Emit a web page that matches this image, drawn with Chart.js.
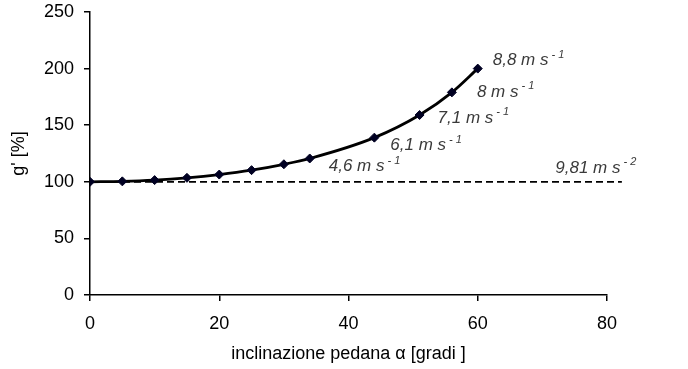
<!DOCTYPE html>
<html lang="it">
<head>
<meta charset="UTF-8">
<title>g' vs inclinazione</title>
<script src="https://cdn.jsdelivr.net/npm/chart.js"></script>
<style>
  * { margin: 0; padding: 0; box-sizing: border-box; }
  body { background: #ffffff; width: 688px; height: 369px; overflow: hidden; }
  #wrap { position: relative; width: 688px; height: 369px; }
</style>
</head>
<body>
<div id="wrap"><canvas id="chart"></canvas></div>
<script>
// inclinazione pedana (gradi) and g' (%)
const angles = [0, 5, 10, 15, 20, 25, 30, 34, 44, 51, 56, 60];
const gPercent = [100, 100.4, 101.5, 103.5, 106.4, 110.3, 115.5, 120.6, 139, 159, 179, 200];

// reference g line, 9,81 m s-2
const refAngles = [0, 82.3];
const refValue = 100;

// speed labels next to the last points
const speedText = ['4,6', '6,1', '7,1', '8', '8,8'];
const speedPoint = [7, 8, 9, 10, 11];

const xTicks = [0, 20, 40, 60, 80];
const yTicks = [0, 50, 100, 150, 200, 250];

Chart.defaults.font.family = 'Arial, "Liberation Sans", sans-serif';
Chart.defaults.color = '#000';

// little offsets so the labels sit like in the original figure
const labelOffsets = [[19, 8], [16, 8], [18, 3], [25, 0], [15, -8]];

const speedLabels = {
    id: 'speedLabels',
    afterDatasetsDraw(chart) {
        const ctx = chart.ctx;
        const xs = chart.scales.x, ys = chart.scales.y;
        const put = (txt, sup, px, py) => {
            ctx.save();
            ctx.fillStyle = '#3a3a3a';
            ctx.textBaseline = 'middle';
            ctx.font = 'italic 17px Arial, "Liberation Sans", sans-serif';
            ctx.fillText(txt, px, py);
            const w = ctx.measureText(txt).width;
            ctx.font = 'italic 11px Arial, "Liberation Sans", sans-serif';
            ctx.fillText(sup, px + w + 3, py - 6);
            ctx.restore();
        };
        speedText.forEach((t, i) => {
            const k = speedPoint[i];
            const px = xs.getPixelForValue(angles[k]) + labelOffsets[i][0];
            const py = ys.getPixelForValue(gPercent[k]) + labelOffsets[i][1];
            put(t + ' m s', '- 1', px, py);
        });
        put('9,81 m s', '- 2', xs.getPixelForValue(72), ys.getPixelForValue(refValue) - 14);
    }
};

new Chart(document.getElementById('chart'), {
    type: 'scatter',
    data: {
        datasets: [
            {
                label: "g'",
                data: angles.map((a, i) => ({ x: a, y: gPercent[i] })),
                showLine: true,
                borderColor: '#000',
                borderWidth: 2.8,
                cubicInterpolationMode: 'monotone',
                pointStyle: 'rectRot',
                pointRadius: 4.5,
                pointBackgroundColor: '#000022',
                pointBorderColor: '#000022',
                pointBorderWidth: 1
            },
            {
                label: 'g',
                data: refAngles.map(a => ({ x: a, y: refValue })),
                showLine: true,
                borderColor: '#000',
                borderWidth: 1.8,
                borderDash: [7, 4],
                pointRadius: 0,
                clip: false
            }
        ]
    },
    options: {
        responsive: true,
        maintainAspectRatio: false,
        animation: false,
        layout: { padding: { top: 12, right: 81, left: 0, bottom: 0 } },
        plugins: {
            legend: { display: false },
            tooltip: { enabled: false }
        },
        scales: {
            x: {
                type: 'linear',
                min: 0,
                max: 80,
                afterFit: s => { s.height = 74; s.paddingLeft = 0; s.paddingRight = 0; },
                afterBuildTicks: s => { s.ticks = xTicks.map(v => ({ value: v })); },
                ticks: { font: { size: 18 }, padding: 12, color: '#000' },
                grid: { drawOnChartArea: false, tickLength: 6, color: '#000', lineWidth: 1.5 },
                border: { color: '#000', width: 1.5 },
                title: {
                    display: true,
                    text: 'inclinazione pedana α [gradi ]',
                    font: { size: 18 },
                    color: '#000',
                    padding: { top: 0, bottom: 4 }
                }
            },
            y: {
                min: 0,
                max: 250,
                afterFit: s => { s.width = 90; s.paddingTop = 0; s.paddingBottom = 0; },
                afterBuildTicks: s => { s.ticks = yTicks.map(v => ({ value: v })); },
                ticks: { font: { size: 18 }, padding: 10, color: '#000' },
                grid: { drawOnChartArea: false, tickLength: 6, color: '#000', lineWidth: 1.5 },
                border: { color: '#000', width: 1.5 },
                title: {
                    display: true,
                    text: "g' [%]",
                    font: { size: 18 },
                    color: '#000',
                    padding: { top: 8, bottom: 0 }
                }
            }
        }
    },
    plugins: [speedLabels]
});
</script>
</body>
</html>
